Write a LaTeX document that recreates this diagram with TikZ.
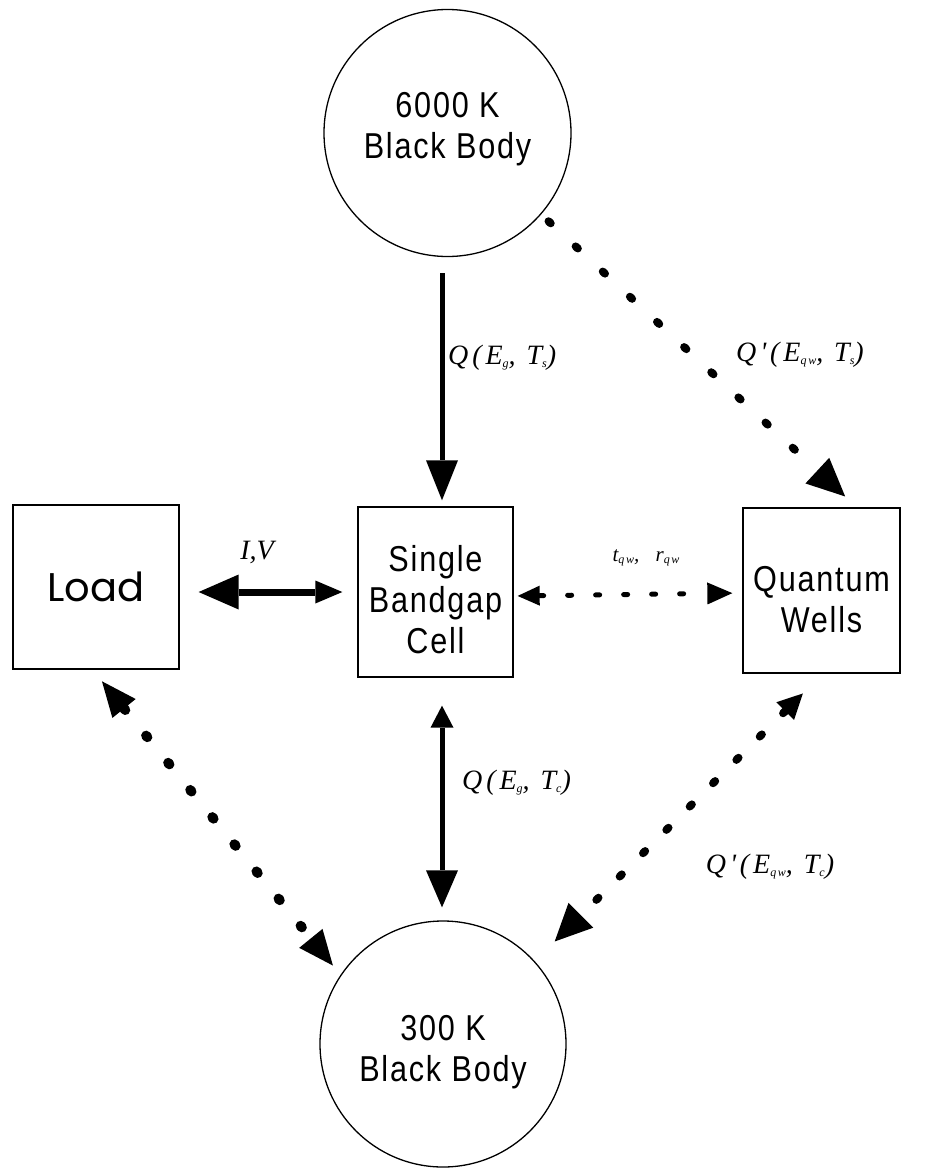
\documentclass[tikz,border=0pt]{standalone}
\usepackage{fontspec}
\setmainfont{Liberation Sans}
\newfontfamily\bigsans[FakeStretch=0.85,LetterSpace=5]{Liberation Sans}
\newfontfamily\loadfont{Poppins}
\newfontfamily\labfont[LetterSpace=14]{Liberation Serif}
\newfontfamily\labplain{Liberation Serif}
\newcommand\sbs[1]{\raisebox{-2.5pt}{\fontsize{12}{12}\selectfont #1}}
\usetikzlibrary{arrows.meta,calc}
\tikzset{
  circ/.style={circle,draw,line width=1.3pt,minimum size=247pt,inner sep=0pt},
  boxnode/.style={rectangle,draw,line width=1.3pt,inner sep=0pt},
  inner/.style={align=center,font=\fontsize{36}{41}\selectfont\bigsans},
  lab/.style={inner sep=0pt,font=\fontsize{28}{30}\selectfont\labfont\itshape},
  solidarr/.style={line width=5pt},
  dotarr/.style={line width=8pt,line cap=round}
}
\begin{document}
\begin{tikzpicture}[x=1pt,y=-1pt]
\useasboundingbox (0,0) rectangle (938,1175);
\fill[white] (0,0) rectangle (938,1175);
% nodes
\node[circ,label={[inner,yshift=4pt]center:6000 K\\Black Body}] (top) at (447.5,133) {};
\node[circ,minimum size=246pt,label={[inner,yshift=-8pt]center:300 K\\Black Body}] (bot) at (443,1044) {};
\node[boxnode,minimum width=166pt,minimum height=164pt,font=\fontsize{40}{44}\selectfont\loadfont] (load) at (96,587) {Load};
\node[boxnode,minimum width=155pt,minimum height=170pt,label={[inner,yshift=-8pt]center:Single\\Bandgap\\Cell}] (cell) at (435.5,592) {};
\node[boxnode,minimum width=157pt,minimum height=165pt,label={[inner,yshift=-9pt]center:Quantum\\Wells}] (qw) at (821.5,590.5) {};
% solid arrows
\draw[solidarr,-{Triangle[length=40pt,width=32pt,line width=0pt]},shorten <=16pt,shorten >=6pt] ([xshift=-5.5pt]top.south) -- ([xshift=6.5pt]cell.north);
\draw[line width=7pt,{Triangle[length=40pt,width=35pt,line width=0pt]}-{Triangle[length=27pt,width=23pt,line width=0pt]},shorten <=19pt,shorten >=15pt] ([yshift=-5pt]load.east) -- (cell.west);
\draw[solidarr,{Triangle[length=22pt,width=23pt,line width=0pt]}-{Triangle[length=37pt,width=32pt,line width=0pt]},shorten <=28pt,shorten >=13pt] ([xshift=6.5pt]cell.south) -- ([xshift=-1pt]bot.north);
% dotted arrows
\draw[line width=5pt,line cap=round,dash pattern=on 4pt off 24pt,{Triangle[length=22pt,width=20pt,line width=0pt]}-{Triangle[length=25pt,width=22pt,line width=0pt]},shorten <=4pt,shorten >=10pt] ([yshift=-4pt]cell.east) -- ([yshift=-2.5pt]qw.west);
\draw[dotarr,dash pattern=on 3pt off 34pt,-{Triangle[length=38pt,width=35pt,line width=0pt]},shorten <=10pt,shorten >=16pt] (top.-41.5) -- ([xshift=35.4pt]qw.north);
\draw[dotarr,dash pattern=on 3pt off 30pt,{Triangle[length=25pt,width=25pt,line width=0pt]}-{Triangle[length=37pt,width=35pt,line width=0pt]},shorten <=28pt,shorten >=28pt] ([xshift=1.2pt]qw.south) -- (bot.42);
\draw[line width=10pt,line cap=round,dash pattern=on 2pt off 33pt,{Triangle[length=35pt,width=30pt,line width=0pt]}-{Triangle[length=35pt,width=30pt,line width=0pt]},shorten <=15pt,shorten >=12pt] ([xshift=-3.5pt]load.south) -- (bot.146.8);
% labels
\node[lab,anchor=west] (l1) at (448,358) {Q(E\sbs{g}, T\sbs{s})};
\node[lab] (l2) at (800,355) {Q'(E\sbs{qw}, T\sbs{s})};
\node[lab,font=\fontsize{28}{30}\selectfont\labplain\itshape] (l3) at (257,552) {I,V};
\node[lab,font=\fontsize{21}{22}\selectfont\labfont\itshape] (l4) at (646,558) {t\sbs{qw},\ \ r\sbs{qw}};
\node[lab,anchor=west] (l5) at (462,783) {Q(E\sbs{g}, T\sbs{c})};
\node[lab] (l6) at (770,867) {Q'(E\sbs{qw}, T\sbs{c})};
\end{tikzpicture}
\end{document}
